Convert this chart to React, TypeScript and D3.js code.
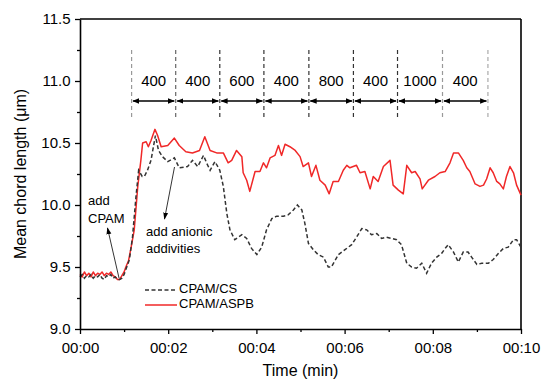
import * as d3 from 'd3';
import { useEffect, useRef } from 'react';

// CPAM/ASPB (red), [time min, mean chord length um]
const aspbSeries: [number, number][] = [
  [0, 9.44], [0.05, 9.42], [0.1, 9.46], [0.15, 9.43], [0.2, 9.45], [0.25, 9.42], [0.3, 9.46],
  [0.35, 9.43], [0.4, 9.45], [0.45, 9.44], [0.5, 9.46], [0.55, 9.43], [0.6, 9.45], [0.65, 9.44],
  [0.7, 9.46], [0.75, 9.43], [0.8, 9.42], [0.85, 9.4], [0.9, 9.4], [0.95, 9.43], [1.0, 9.46],
  [1.04, 9.5], [1.1, 9.55], [1.16, 9.66], [1.23, 9.8], [1.31, 10.15], [1.38, 10.36], [1.42, 10.5],
  [1.5, 10.51], [1.55, 10.47], [1.61, 10.52], [1.7, 10.61], [1.76, 10.56], [1.84, 10.47],
  [1.99, 10.48], [2.14, 10.54], [2.25, 10.48], [2.4, 10.43], [2.55, 10.42], [2.71, 10.44],
  [2.83, 10.55], [2.95, 10.44], [3.1, 10.42], [3.25, 10.42], [3.36, 10.34], [3.44, 10.36],
  [3.55, 10.44], [3.67, 10.39], [3.7, 10.26], [3.78, 10.2], [3.85, 10.11], [3.97, 10.27],
  [4.08, 10.27], [4.16, 10.34], [4.23, 10.3], [4.31, 10.38], [4.42, 10.4], [4.5, 10.48],
  [4.57, 10.4], [4.65, 10.49], [4.76, 10.47], [4.88, 10.44], [4.99, 10.39], [5.06, 10.31],
  [5.18, 10.34], [5.25, 10.23], [5.35, 10.32], [5.44, 10.2], [5.56, 10.16], [5.65, 10.09],
  [5.74, 10.19], [5.86, 10.19], [5.97, 10.28], [6.05, 10.32], [6.12, 10.3], [6.27, 10.32],
  [6.35, 10.26], [6.46, 10.27], [6.58, 10.13], [6.65, 10.23], [6.76, 10.19], [6.88, 10.31],
  [7.03, 10.36], [7.1, 10.16], [7.22, 10.12], [7.33, 10.09], [7.41, 10.32], [7.52, 10.26],
  [7.6, 10.27], [7.71, 10.21], [7.76, 10.13], [7.9, 10.2], [8.05, 10.23], [8.16, 10.26],
  [8.28, 10.27], [8.39, 10.34], [8.47, 10.42], [8.58, 10.42], [8.69, 10.36], [8.77, 10.3],
  [8.84, 10.27], [8.96, 10.17], [9.07, 10.15], [9.15, 10.16], [9.22, 10.21], [9.3, 10.3],
  [9.37, 10.26], [9.45, 10.19], [9.52, 10.17], [9.6, 10.13], [9.67, 10.23], [9.75, 10.31],
  [9.83, 10.26], [9.9, 10.16], [10.0, 10.08],
];

// CPAM/CS (black dashed)
const csSeries: [number, number][] = [
  [0, 9.42], [0.05, 9.44], [0.1, 9.41], [0.15, 9.43], [0.2, 9.42], [0.25, 9.44], [0.3, 9.41],
  [0.35, 9.43], [0.4, 9.42], [0.45, 9.44], [0.5, 9.41], [0.55, 9.4], [0.6, 9.43], [0.65, 9.42],
  [0.7, 9.44], [0.75, 9.41], [0.8, 9.42], [0.85, 9.4], [0.9, 9.4], [0.95, 9.41], [1.0, 9.44],
  [1.12, 9.56], [1.19, 9.74], [1.27, 10.07], [1.33, 10.28], [1.41, 10.23], [1.46, 10.23],
  [1.53, 10.28], [1.61, 10.36], [1.71, 10.56], [1.78, 10.44], [1.87, 10.39], [1.99, 10.35],
  [2.14, 10.38], [2.25, 10.3], [2.44, 10.31], [2.55, 10.36], [2.67, 10.31], [2.8, 10.4],
  [2.87, 10.34], [2.95, 10.28], [3.06, 10.35], [3.17, 10.28], [3.25, 10.15], [3.33, 9.93],
  [3.4, 9.8], [3.51, 9.72], [3.67, 9.76], [3.78, 9.73], [3.89, 9.65], [4.01, 9.6], [4.12, 9.66],
  [4.23, 9.8], [4.35, 9.89], [4.46, 9.91], [4.61, 9.91], [4.72, 9.92], [4.84, 9.96], [4.93, 10.0],
  [5.03, 9.96], [5.1, 9.85], [5.18, 9.69], [5.29, 9.64], [5.4, 9.6], [5.52, 9.58], [5.63, 9.5],
  [5.7, 9.5], [5.86, 9.6], [6.01, 9.64], [6.16, 9.68], [6.27, 9.74], [6.39, 9.81], [6.5, 9.8],
  [6.61, 9.76], [6.73, 9.77], [6.84, 9.73], [6.95, 9.74], [7.07, 9.73], [7.18, 9.72],
  [7.29, 9.68], [7.41, 9.53], [7.52, 9.5], [7.63, 9.49], [7.75, 9.53], [7.86, 9.45], [7.97, 9.53],
  [8.09, 9.58], [8.2, 9.61], [8.28, 9.65], [8.35, 9.68], [8.47, 9.62], [8.58, 9.54], [8.69, 9.62],
  [8.8, 9.62], [8.88, 9.58], [9.0, 9.52], [9.11, 9.53], [9.26, 9.53], [9.37, 9.56], [9.49, 9.61],
  [9.6, 9.65], [9.71, 9.66], [9.83, 9.72], [9.9, 9.72], [10.0, 9.66],
];

// dosing intervals (time of each dashed divider) and the amounts between them
const dividerTimes = [1.17, 2.17, 3.17, 4.17, 5.19, 6.2, 7.2, 8.22, 9.25];
const dividerShades = ['#999', '#666', '#333', '#333', '#333', '#333', '#333', '#999', '#aaa'];
const dosageLabels = ['400', '400', '600', '400', '800', '400', '1000', '400'];

const xTickLabels = ['00:00', '00:02', '00:04', '00:06', '00:08', '00:10'];
const yTicks = [9.0, 9.5, 10.0, 10.5, 11.0, 11.5];

const W = 550;
const H = 387;
const margin = { top: 19, right: 29, bottom: 58, left: 80 };
const FONT = 'Arial, "Liberation Sans", Helvetica, sans-serif';

export default function App() {
  const axRef = useRef<SVGGElement>(null);

  const x = d3.scaleLinear().domain([0, 10]).range([margin.left, W - margin.right]);
  const y = d3.scaleLinear().domain([9.0, 11.5]).range([H - margin.bottom, margin.top]);

  const line = d3.line<[number, number]>().x(d => x(d[0])).y(d => y(d[1]));

  useEffect(() => {
    if (!axRef.current) return;
    const g = d3.select(axRef.current);
    g.selectAll('*').remove();

    // minor ticks first
    g.append('g')
      .attr('transform', `translate(0,${y(9.0)})`)
      .call(d3.axisBottom(x).tickValues(d3.range(1, 10, 2)).tickSize(3).tickFormat(() => ''))
      .call(s => s.select('.domain').remove());
    g.append('g')
      .attr('transform', `translate(${x(0)},0)`)
      .call(d3.axisLeft(y).tickValues(d3.range(9.25, 11.5, 0.5)).tickSize(3).tickFormat(() => ''))
      .call(s => s.select('.domain').remove());

    const xAxis = g.append('g')
      .attr('transform', `translate(0,${y(9.0)})`)
      .call(d3.axisBottom(x).tickValues(d3.range(0, 11, 2)).tickSize(5).tickSizeOuter(0)
        .tickFormat((_, i) => xTickLabels[i]));
    xAxis.selectAll('text').attr('dy', '1.05em');

    const yAxis = g.append('g')
      .attr('transform', `translate(${x(0)},0)`)
      .call(d3.axisLeft(y).tickValues(yTicks).tickSize(5).tickSizeOuter(0)
        .tickFormat(d3.format('.1f')));
    yAxis.selectAll('text').attr('dx', '-0.1em');

    g.selectAll('.tick line').attr('stroke', '#000').attr('stroke-width', 1.3);
    g.selectAll('.domain').attr('stroke', '#000').attr('stroke-width', 1.6);
    g.selectAll('text')
      .style('font-family', FONT)
      .style('font-size', '15px')
      .attr('fill', '#000');
  }, []);

  const arrowY = 101;

  return (
    <svg width={W} height={H} style={{ position: 'absolute', left: 0, top: 0, background: '#fff' }}
      fontFamily={FONT}>
      <defs>
        <marker id="dbl" viewBox="0 0 10 10" refX="9" refY="5" markerWidth="7" markerHeight="7"
          markerUnits="userSpaceOnUse" orient="auto-start-reverse">
          <path d="M0,1 L10,5 L0,9 Z" fill="#000" />
        </marker>
        <marker id="thin" viewBox="0 0 10 10" refX="9" refY="5" markerWidth="7" markerHeight="7"
          markerUnits="userSpaceOnUse" orient="auto">
          <path d="M0,1.5 L10,5 L0,8.5 Z" fill="#000" />
        </marker>
      </defs>

      {/* frame top / right */}
      <line x1={x(0)} x2={x(10)} y1={y(11.5)} y2={y(11.5)} stroke="#000" strokeWidth={1.6} />
      <line x1={x(10)} x2={x(10)} y1={y(11.5)} y2={y(9.0)} stroke="#000" strokeWidth={1.6} />

      {/* dosing dividers */}
      {dividerTimes.map((t, i) => (
        <line key={'d' + i} x1={x(t)} x2={x(t)} y1={50} y2={118}
          stroke={dividerShades[i]} strokeWidth={1.2} strokeDasharray="4,3" />
      ))}
      {dosageLabels.map((lab, i) => {
        const x0 = x(dividerTimes[i]);
        const x1 = x(dividerTimes[i + 1]);
        return (
          <g key={'a' + i}>
            <line x1={x0 + 1.5} x2={x1 - 1.5} y1={arrowY} y2={arrowY} stroke="#000" strokeWidth={1.3}
              markerStart="url(#dbl)" markerEnd="url(#dbl)" />
            <text x={(x0 + x1) / 2} y={82} textAnchor="middle" dominantBaseline="middle" fontSize={15}>
              {lab}
            </text>
          </g>
        );
      })}

      {/* series */}
      <path d={line(aspbSeries) ?? ''} fill="none" stroke="#f02828" strokeWidth={1.5} strokeLinejoin="round" />
      <path d={line(csSeries) ?? ''} fill="none" stroke="#333" strokeWidth={1.5} strokeDasharray="4,2.5" />

      {/* annotations */}
      <text x={88} y={205} fontSize={13}>add</text>
      <text x={88} y={223} fontSize={13}>CPAM</text>
      <line x1={119} y1={278} x2={107.5} y2={228} stroke="#000" strokeWidth={0.8} markerEnd="url(#thin)" />

      <text x={146} y={236} fontSize={13}>add anionic</text>
      <text x={146} y={253} fontSize={13}>addivities</text>
      <line x1={174.5} y1={167} x2={164.5} y2={219} stroke="#000" strokeWidth={0.8} markerEnd="url(#thin)" />

      {/* legend */}
      <line x1={145} x2={177} y1={290} y2={290} stroke="#333" strokeWidth={1.5} strokeDasharray="4,2.5" />
      <text x={179} y={290} fontSize={13} dominantBaseline="middle">CPAM/CS</text>
      <line x1={145} x2={177} y1={305} y2={305} stroke="#f02828" strokeWidth={1.5} />
      <text x={179} y={305} fontSize={13} dominantBaseline="middle">CPAM/ASPB</text>

      <g ref={axRef} />

      {/* axis titles */}
      <text x={(x(0) + x(10)) / 2} y={376} textAnchor="middle" fontSize={16}>Time (min)</text>
      <text transform={`translate(26,${(y(9) + y(11.5)) / 2}) rotate(-90)`} textAnchor="middle" fontSize={16}>
        Mean chord length (μm)
      </text>
    </svg>
  );
}
